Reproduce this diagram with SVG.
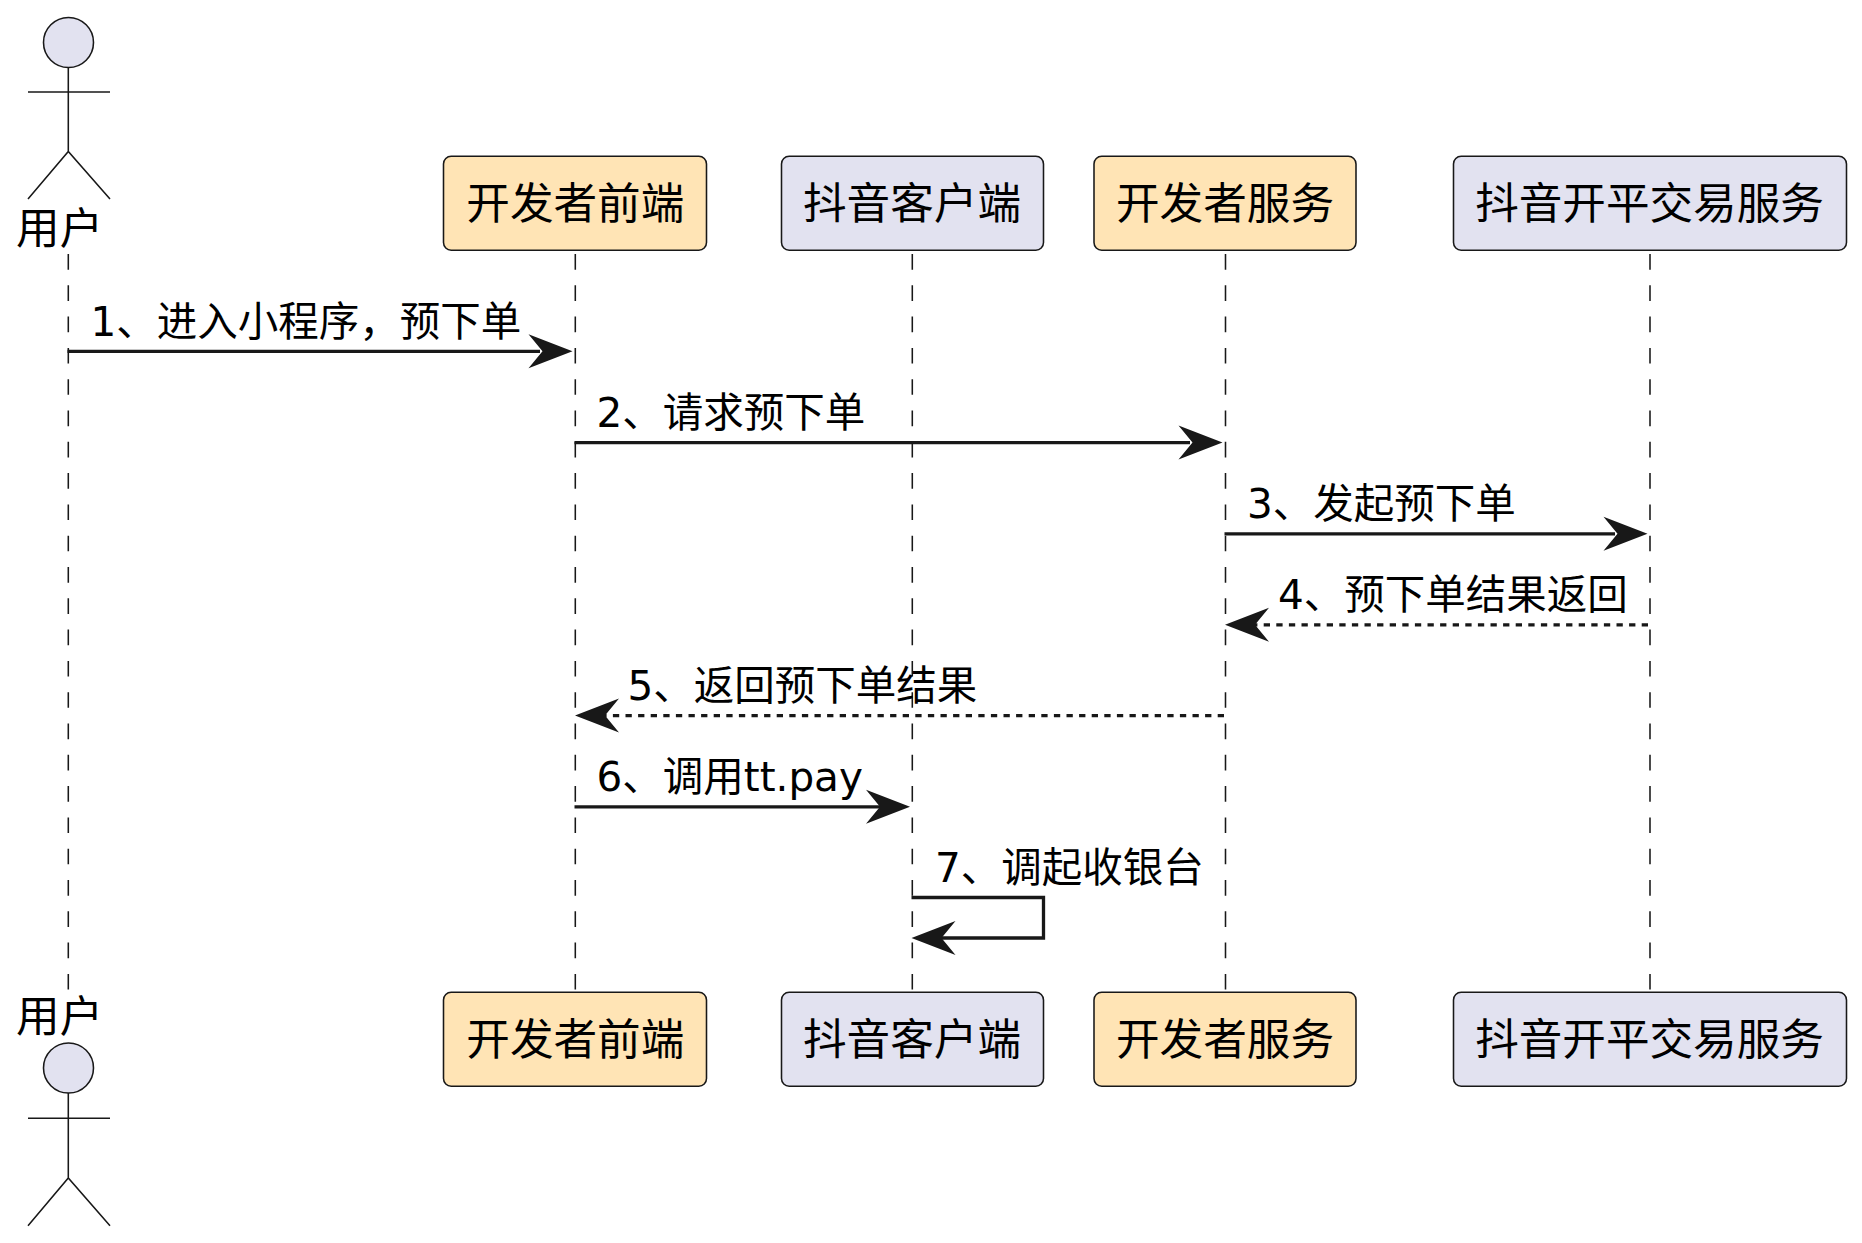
<svg xmlns="http://www.w3.org/2000/svg" width="1862" height="1243" viewBox="0 0 1862 1243">
<defs>
<style>
text{font-family:"DejaVu Sans","Noto Sans CJK SC",sans-serif;fill:#000}
.p{font-size:43.6px;text-anchor:middle}
.m{font-size:40.5px}
.box{stroke:#181818;stroke-width:1.55}
.y{fill:#FFE4B5}
.b{fill:#E2E2F0}
.a{fill:none;stroke:#181818;stroke-width:1.55}
.h{fill:#E2E2F0;stroke:#181818;stroke-width:1.55}
.life{stroke:#181818;stroke-width:1.55;stroke-dasharray:15.65 15.65;fill:none}
.msg{stroke:#181818;stroke-width:3.3;fill:none}
.dot{stroke-dasharray:6.3 6.3}
.tip{fill:#181818}
</style>
<polygon id="ar" class="tip" points="0,0 -44,-17 -30,0 -44,17"/>
<polygon id="al" class="tip" points="0,0 44,-17 30,0 44,17"/>
</defs>
<rect width="1862" height="1243" fill="#fff"/>
<g id="lifelines">
<line class="life" x1="68.3" y1="254" x2="68.3" y2="990"/>
<line class="life" x1="575.3" y1="254" x2="575.3" y2="990"/>
<line class="life" x1="912.3" y1="254" x2="912.3" y2="990"/>
<line class="life" x1="1225.5" y1="254" x2="1225.5" y2="990"/>
<line class="life" x1="1650" y1="254" x2="1650" y2="990"/>
</g>
<g id="actor-top"><circle class="h" cx="68.5" cy="42.5" r="25"/><path class="a" d="M68.3 67.5V151.5M28 92H110M28 199L68.3 151.5L110 199"/><text class="p" x="59.5" y="244">用户</text></g>
<g id="p1-top"><rect class="box y" x="443.5" y="156.3" width="263" height="94" rx="7.7"/><text class="p" x="575.3" y="219">开发者前端</text></g>
<g id="p2-top"><rect class="box b" x="781.5" y="156.3" width="262" height="94" rx="7.7"/><text class="p" x="912" y="219">抖音客户端</text></g>
<g id="p3-top"><rect class="box y" x="1094" y="156.3" width="262" height="94" rx="7.7"/><text class="p" x="1225" y="219">开发者服务</text></g>
<g id="p4-top"><rect class="box b" x="1453.5" y="156.3" width="393" height="94" rx="7.7"/><text class="p" x="1649.5" y="219">抖音开平交易服务</text></g>
<g id="actor-bottom"><text class="p" x="59.5" y="1032">用户</text><circle class="h" cx="68.5" cy="1068" r="25"/><path class="a" d="M68.3 1093V1178M28 1118.3H110M28 1225.7L68.3 1178L110 1225.7"/></g>
<g id="p1-bottom"><rect class="box y" x="443.5" y="992.3" width="263" height="94" rx="7.7"/><text class="p" x="575.3" y="1055">开发者前端</text></g>
<g id="p2-bottom"><rect class="box b" x="781.5" y="992.3" width="262" height="94" rx="7.7"/><text class="p" x="912" y="1055">抖音客户端</text></g>
<g id="p3-bottom"><rect class="box y" x="1094" y="992.3" width="262" height="94" rx="7.7"/><text class="p" x="1225" y="1055">开发者服务</text></g>
<g id="p4-bottom"><rect class="box b" x="1453.5" y="992.3" width="393" height="94" rx="7.7"/><text class="p" x="1649.5" y="1055">抖音开平交易服务</text></g>
<g id="connectors">
<path class="msg" d="M67.5 351.3H540"/><use href="#ar" x="572.5" y="351.3"/>
<path class="msg" d="M574.5 442.6H1190"/><use href="#ar" x="1222.5" y="442.6"/>
<path class="msg" d="M1224.5 533.8H1615"/><use href="#ar" x="1647.5" y="533.8"/>
<path class="msg dot" d="M1648 624.8H1250"/><use href="#al" x="1225" y="624.8"/>
<path class="msg dot" d="M1224 715.6H600"/><use href="#al" x="575" y="715.6"/>
<path class="msg" d="M574.5 806.8H880"/><use href="#ar" x="910" y="806.8"/>
<path class="msg" d="M911.5 897.5H1043.5V938H940"/><use href="#al" x="911.5" y="938"/>
</g>
<g id="labels">
<text class="m" x="90.5" y="336">1、进入小程序，预下单</text>
<text class="m" x="596.5" y="427">2、请求预下单</text>
<text class="m" x="1247" y="518">3、发起预下单</text>
<text class="m" x="1278" y="609">4、预下单结果返回</text>
<text class="m" x="627.5" y="700">5、返回预下单结果</text>
<text class="m" x="596.5" y="791">6、调用tt.pay</text>
<text class="m" x="935" y="882">7、调起收银台</text>
</g>
</svg>
